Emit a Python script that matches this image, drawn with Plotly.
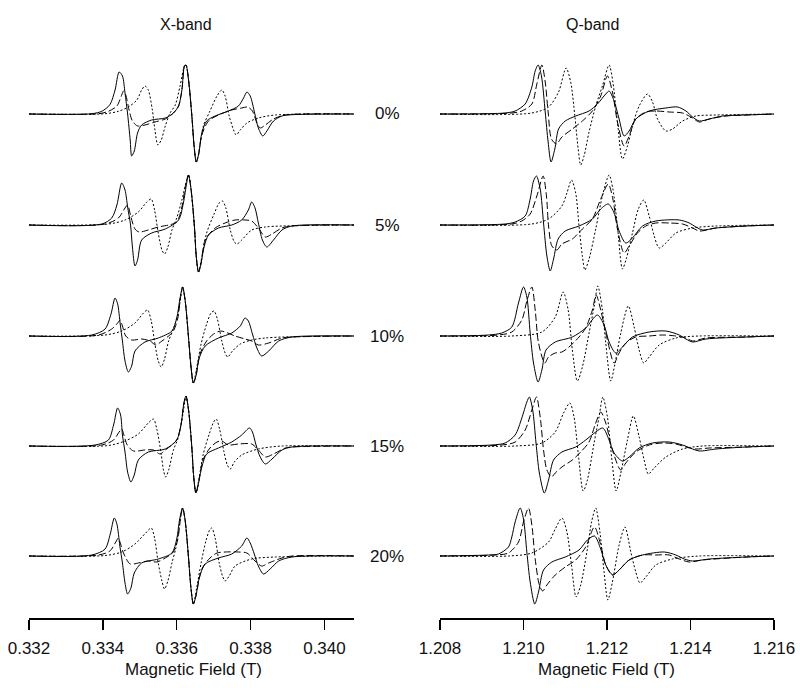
import plotly.graph_objects as go

PANELS = ["X-band", "Q-band"]
CONCENTRATIONS = ["0%", "5%", "10%", "15%", "20%"]
X_TICKS = [0.332, 0.334, 0.336, 0.338, 0.340]
Q_TICKS = [1.208, 1.210, 1.212, 1.214, 1.216]

# spectra: (field in T, first-derivative signal in a.u.)
X0_SOLID = [(0.33200, 0), (0.33370, 0.3), (0.33397, 2.7), (0.33419, 9.3), (0.33433, 24), (0.33444, 42), (0.33453, 38), (0.33460, 21), (0.33467, 0), (0.33474, -26), (0.33478, -42), (0.33485, -37), (0.33494, -19), (0.33505, -11), (0.33532, -6), (0.33569, -4), (0.33591, 1), (0.33605, 8), (0.33614, 24), (0.33621, 48), (0.33625, 49), (0.33632, 34), (0.33641, -2), (0.33647, -32), (0.33653, -48), (0.33659, -41), (0.33668, -19), (0.33681, -7), (0.33704, -2), (0.33740, 3), (0.33767, 8), (0.33781, 16), (0.33790, 22), (0.33799, 18), (0.33811, 1), (0.33821, -14), (0.33833, -22), (0.33844, -17), (0.33862, -7), (0.33885, -2), (0.33912, -0.7), (0.34080, 0)]
X0_DASH = [(0.33200, 0), (0.33388, 0.3), (0.33415, 2.7), (0.33438, 8), (0.33451, 19), (0.33456, 23), (0.33462, 19), (0.33471, 4), (0.33480, -7), (0.33494, -12), (0.33514, -11), (0.33541, -8), (0.33569, -5), (0.33591, 1), (0.33605, 8), (0.33614, 24), (0.33621, 48), (0.33625, 49), (0.33632, 34), (0.33641, -2), (0.33647, -32), (0.33653, -48), (0.33659, -41), (0.33668, -21), (0.33686, -7), (0.33713, -1), (0.33749, 4), (0.33776, 6), (0.33792, 7), (0.33805, 3), (0.33817, -9), (0.33826, -14), (0.33840, -11), (0.33862, -5), (0.33894, -1), (0.34080, 0)]
X0_DOT = [(0.33200, 0), (0.33406, 0.3), (0.33442, 2.7), (0.33469, 7), (0.33492, 14), (0.33505, 24), (0.33514, 28), (0.33523, 24), (0.33534, 4), (0.33541, -16), (0.33549, -31), (0.33558, -26), (0.33569, -12), (0.33582, 1), (0.33596, 9), (0.33609, 28), (0.33621, 48), (0.33625, 49), (0.33632, 34), (0.33641, -2), (0.33647, -32), (0.33653, -48), (0.33661, -36), (0.33672, -12), (0.33690, 3), (0.33709, 18), (0.33722, 24), (0.33731, 18), (0.33742, -2), (0.33754, -16), (0.33761, -21), (0.33772, -16), (0.33790, -9), (0.33821, -4), (0.33867, -1), (0.34080, 0)]

X1_SOLID = [(0.33200, 0), (0.33397, 1), (0.33424, 7), (0.33438, 20), (0.33451, 42), (0.33460, 35), (0.33467, 18), (0.33475, 0), (0.33480, -22), (0.33487, -41), (0.33494, -35), (0.33505, -15), (0.33532, -8), (0.33569, -4), (0.33605, 5), (0.33618, 22), (0.33627, 42), (0.33632, 50), (0.33639, 35), (0.33648, -2), (0.33653, -32), (0.33659, -47), (0.33665, -40), (0.33674, -22), (0.33686, -10), (0.33713, -3), (0.33749, 0), (0.33776, 5), (0.33794, 15), (0.33803, 23), (0.33812, 17), (0.33821, 2), (0.33832, -15), (0.33844, -22), (0.33862, -15), (0.33885, -5), (0.33912, -1), (0.34080, 0)]
X1_DASH = [(0.33200, 0), (0.33406, 1), (0.33442, 7), (0.33460, 17), (0.33467, 20), (0.33476, 8), (0.33487, -4), (0.33498, -7), (0.33523, -5), (0.33550, -2), (0.33578, 0), (0.33600, 3), (0.33614, 18), (0.33625, 42), (0.33632, 50), (0.33639, 35), (0.33648, -2), (0.33653, -32), (0.33659, -47), (0.33665, -40), (0.33677, -15), (0.33704, -3), (0.33731, 2), (0.33758, 5), (0.33785, 5), (0.33803, 4), (0.33821, -3), (0.33840, -12), (0.33858, -9), (0.33885, -3), (0.33912, -1), (0.34080, 0)]
X1_DOT = [(0.33200, 0), (0.33415, 1), (0.33460, 5), (0.33496, 13), (0.33519, 23), (0.33531, 26), (0.33540, 15), (0.33550, -8), (0.33560, -25), (0.33567, -29), (0.33576, -22), (0.33587, -5), (0.33600, 7), (0.33614, 25), (0.33625, 42), (0.33632, 50), (0.33639, 35), (0.33648, -2), (0.33653, -32), (0.33659, -47), (0.33668, -32), (0.33681, -8), (0.33700, 10), (0.33715, 22), (0.33724, 24), (0.33733, 17), (0.33745, -5), (0.33756, -17), (0.33763, -19), (0.33776, -15), (0.33803, -5), (0.33840, -2), (0.33885, -1), (0.34080, 0)]

X2_SOLID = [(0.33200, 0), (0.33370, 1), (0.33406, 7), (0.33422, 22), (0.33433, 38), (0.33440, 32), (0.33447, 12), (0.33453, -5), (0.33460, -25), (0.33469, -36), (0.33478, -30), (0.33487, -15), (0.33514, -6), (0.33550, -2), (0.33587, 5), (0.33600, 18), (0.33609, 38), (0.33616, 49), (0.33623, 35), (0.33632, -2), (0.33639, -32), (0.33645, -47), (0.33652, -40), (0.33661, -22), (0.33677, -10), (0.33713, -2), (0.33749, 3), (0.33772, 10), (0.33785, 18), (0.33794, 15), (0.33805, 2), (0.33817, -12), (0.33830, -20), (0.33849, -15), (0.33876, -5), (0.33912, -1), (0.34080, 0)]
X2_DASH = [(0.33200, 0), (0.33388, 1), (0.33424, 7), (0.33440, 13), (0.33447, 16), (0.33453, 10), (0.33462, 0), (0.33478, -4), (0.33505, -3), (0.33528, -5), (0.33543, -9), (0.33560, -5), (0.33578, 0), (0.33591, 5), (0.33603, 18), (0.33610, 38), (0.33616, 49), (0.33623, 35), (0.33632, -2), (0.33639, -32), (0.33645, -47), (0.33652, -40), (0.33663, -18), (0.33681, -5), (0.33700, 2), (0.33718, 5), (0.33731, 4), (0.33758, 0), (0.33785, -3), (0.33803, -5), (0.33821, -9), (0.33849, -7), (0.33885, -2), (0.33912, -1), (0.34080, 0)]
X2_DOT = [(0.33200, 0), (0.33406, 1), (0.33451, 5), (0.33487, 13), (0.33510, 23), (0.33521, 26), (0.33531, 15), (0.33541, -8), (0.33550, -25), (0.33558, -31), (0.33567, -23), (0.33578, -5), (0.33591, 7), (0.33605, 25), (0.33612, 42), (0.33616, 49), (0.33623, 35), (0.33632, -2), (0.33639, -32), (0.33645, -47), (0.33654, -32), (0.33666, -8), (0.33681, 12), (0.33693, 23), (0.33701, 25), (0.33710, 17), (0.33722, -5), (0.33731, -17), (0.33738, -21), (0.33751, -15), (0.33772, -8), (0.33803, -4), (0.33840, -2), (0.33885, -1), (0.34080, 0)]

X3_SOLID = [(0.33200, 0), (0.33379, 1), (0.33415, 6), (0.33429, 21), (0.33440, 38), (0.33448, 31), (0.33453, 11), (0.33460, -6), (0.33467, -26), (0.33476, -36), (0.33485, -29), (0.33496, -14), (0.33523, -6), (0.33569, -3), (0.33600, 6), (0.33612, 22), (0.33619, 42), (0.33625, 50), (0.33632, 36), (0.33641, -2), (0.33646, -31), (0.33652, -47), (0.33658, -39), (0.33668, -21), (0.33681, -8), (0.33713, -2), (0.33749, 4), (0.33776, 11), (0.33797, 18), (0.33805, 14), (0.33814, 2), (0.33826, -11), (0.33840, -18), (0.33858, -13), (0.33885, -4), (0.33912, -1), (0.34080, 0)]
X3_DASH = [(0.33200, 0), (0.33397, 1), (0.33429, 6), (0.33444, 14), (0.33451, 17), (0.33457, 11), (0.33466, 1), (0.33483, -5), (0.33514, -4), (0.33537, -4), (0.33555, -8), (0.33569, -4), (0.33587, 1), (0.33600, 6), (0.33612, 22), (0.33619, 42), (0.33625, 50), (0.33632, 36), (0.33641, -2), (0.33646, -31), (0.33652, -47), (0.33658, -39), (0.33671, -14), (0.33690, -2), (0.33709, 4), (0.33722, 5), (0.33740, 1), (0.33767, 2), (0.33803, 2), (0.33821, -4), (0.33840, -11), (0.33862, -8), (0.33894, -2), (0.33912, -1), (0.34080, 0)]
X3_DOT = [(0.33200, 0), (0.33415, 0.5), (0.33460, 5), (0.33496, 12), (0.33523, 23), (0.33537, 27), (0.33546, 17), (0.33558, -8), (0.33564, -24), (0.33570, -31), (0.33579, -23), (0.33591, -4), (0.33603, 7), (0.33614, 26), (0.33621, 42), (0.33625, 50), (0.33632, 36), (0.33641, -2), (0.33646, -31), (0.33652, -47), (0.33661, -31), (0.33672, -8), (0.33688, 12), (0.33700, 24), (0.33707, 27), (0.33716, 17), (0.33728, -6), (0.33737, -19), (0.33745, -23), (0.33756, -16), (0.33776, -9), (0.33821, -3), (0.33885, 0), (0.34080, 0)]

X4_SOLID = [(0.33200, 0), (0.33370, 1), (0.33406, 7), (0.33420, 22), (0.33431, 38), (0.33438, 32), (0.33446, 10), (0.33453, -7), (0.33460, -27), (0.33467, -38), (0.33476, -32), (0.33485, -17), (0.33505, -7), (0.33550, -3), (0.33587, 3), (0.33600, 17), (0.33608, 37), (0.33616, 48), (0.33623, 35), (0.33632, -2), (0.33638, -30), (0.33645, -48), (0.33652, -40), (0.33661, -22), (0.33677, -8), (0.33713, -2), (0.33749, 2), (0.33776, 10), (0.33790, 18), (0.33799, 13), (0.33810, 2), (0.33821, -10), (0.33835, -18), (0.33853, -13), (0.33876, -5), (0.33912, -1), (0.34080, 0)]
X4_DASH = [(0.33200, 0), (0.33388, 1), (0.33419, 5), (0.33435, 14), (0.33442, 18), (0.33448, 12), (0.33457, 2), (0.33474, -8), (0.33496, -7), (0.33523, -5), (0.33546, -6), (0.33569, -2), (0.33591, 4), (0.33603, 17), (0.33610, 37), (0.33616, 48), (0.33623, 35), (0.33632, -2), (0.33638, -30), (0.33645, -48), (0.33652, -40), (0.33668, -13), (0.33690, -2), (0.33709, 3), (0.33731, 4), (0.33767, 4), (0.33790, 3), (0.33812, -5), (0.33830, -10), (0.33849, -7), (0.33885, -2), (0.33912, 0), (0.34080, 0)]
X4_DOT = [(0.33200, 0), (0.33406, 0.5), (0.33451, 4), (0.33487, 12), (0.33516, 23), (0.33531, 28), (0.33540, 18), (0.33550, -7), (0.33560, -25), (0.33567, -33), (0.33576, -25), (0.33587, -7), (0.33597, 7), (0.33606, 27), (0.33612, 42), (0.33616, 48), (0.33623, 35), (0.33632, -2), (0.33638, -30), (0.33645, -48), (0.33654, -32), (0.33666, -7), (0.33679, 15), (0.33689, 26), (0.33695, 28), (0.33704, 18), (0.33715, -7), (0.33724, -20), (0.33731, -25), (0.33742, -20), (0.33758, -10), (0.33803, -3), (0.33867, -1), (0.34080, 0)]

Q0_SOLID = [(1.20800, 0), (1.20956, 1), (1.20980, 3), (1.21004, 10), (1.21020, 27), (1.21028, 43), (1.21035, 49), (1.21043, 38), (1.21052, 2), (1.21059, -28), (1.21066, -48), (1.21075, -35), (1.21084, -15), (1.21100, -7), (1.21125, -2), (1.21157, 3), (1.21177, 10), (1.21197, 20), (1.21205, 23), (1.21217, 13), (1.21229, -5), (1.21241, -22), (1.21253, -17), (1.21269, -5), (1.21301, 3), (1.21341, 6), (1.21369, 7), (1.21389, 3), (1.21405, -3), (1.21421, -7), (1.21445, -5), (1.21477, -2), (1.21533, -1), (1.21600, 0)]
Q0_DASH = [(1.20800, 0), (1.20972, 1), (1.20996, 3), (1.21020, 10), (1.21032, 30), (1.21044, 49), (1.21052, 32), (1.21059, 2), (1.21067, -25), (1.21079, -30), (1.21092, -23), (1.21117, -15), (1.21141, -7), (1.21165, 3), (1.21185, 18), (1.21201, 38), (1.21213, 22), (1.21225, -8), (1.21241, -32), (1.21253, -22), (1.21269, -5), (1.21293, 2), (1.21317, 3), (1.21349, 2), (1.21381, 1), (1.21405, -4), (1.21421, -8), (1.21445, -5), (1.21485, -2), (1.21533, -1), (1.21600, 0)]
Q0_DOT = [(1.20800, 0), (1.21020, 1), (1.21060, 7), (1.21084, 22), (1.21102, 46), (1.21113, 32), (1.21123, -2), (1.21131, -35), (1.21137, -51), (1.21145, -42), (1.21157, -18), (1.21173, 8), (1.21189, 28), (1.21205, 49), (1.21214, 32), (1.21225, -8), (1.21237, -45), (1.21249, -32), (1.21261, -12), (1.21277, 8), (1.21297, 20), (1.21309, 12), (1.21321, -5), (1.21341, -17), (1.21357, -15), (1.21381, -7), (1.21413, -2), (1.21461, -1), (1.21600, 0)]

Q1_SOLID = [(1.20800, 0), (1.20956, 1), (1.20980, 3), (1.21004, 9), (1.21016, 26), (1.21024, 44), (1.21031, 49), (1.21040, 36), (1.21048, 2), (1.21056, -31), (1.21064, -46), (1.21072, -34), (1.21083, -14), (1.21100, -6), (1.21133, -1), (1.21165, 6), (1.21185, 16), (1.21203, 21), (1.21217, 12), (1.21229, -6), (1.21245, -18), (1.21261, -13), (1.21285, -1), (1.21317, 4), (1.21373, 5), (1.21397, 2), (1.21413, -2), (1.21429, -5), (1.21461, -3), (1.21533, -1), (1.21600, 0)]
Q1_DASH = [(1.20800, 0), (1.20972, 1), (1.20996, 4), (1.21016, 11), (1.21032, 29), (1.21047, 49), (1.21055, 29), (1.21060, -1), (1.21068, -21), (1.21080, -25), (1.21092, -19), (1.21117, -14), (1.21141, -4), (1.21165, 6), (1.21185, 26), (1.21203, 41), (1.21214, 26), (1.21225, -4), (1.21241, -28), (1.21253, -21), (1.21273, -8), (1.21293, -1), (1.21317, 2), (1.21349, 2), (1.21381, 1), (1.21405, -3), (1.21421, -6), (1.21461, -3), (1.21533, -1), (1.21600, 0)]
Q1_DOT = [(1.20800, 0), (1.21020, 1), (1.21060, 6), (1.21092, 19), (1.21104, 32), (1.21115, 45), (1.21125, 32), (1.21133, -1), (1.21141, -31), (1.21147, -45), (1.21157, -34), (1.21173, -4), (1.21189, 29), (1.21205, 50), (1.21214, 36), (1.21225, -1), (1.21237, -44), (1.21246, -34), (1.21261, -8), (1.21275, 16), (1.21288, 25), (1.21301, 9), (1.21313, -11), (1.21325, -23), (1.21341, -18), (1.21365, -8), (1.21405, -3), (1.21461, -1), (1.21600, 0)]

Q2_SOLID = [(1.20800, 0), (1.20916, 1), (1.20948, 3), (1.20972, 9), (1.20988, 33), (1.21000, 49), (1.21008, 39), (1.21016, 3), (1.21024, -27), (1.21035, -46), (1.21044, -34), (1.21054, -14), (1.21076, -6), (1.21117, -1), (1.21149, 8), (1.21177, 21), (1.21193, 11), (1.21205, -6), (1.21221, -17), (1.21237, -11), (1.21261, -1), (1.21301, 4), (1.21341, 5), (1.21373, 1), (1.21389, -3), (1.21405, -6), (1.21437, -3), (1.21533, -1), (1.21600, 0)]
Q2_DASH = [(1.20800, 0), (1.20940, 1), (1.20972, 4), (1.20996, 16), (1.21008, 35), (1.21020, 49), (1.21028, 26), (1.21036, -7), (1.21051, -27), (1.21060, -21), (1.21076, -17), (1.21092, -16), (1.21109, -11), (1.21133, -1), (1.21149, 8), (1.21165, 26), (1.21174, 41), (1.21185, 26), (1.21201, -4), (1.21217, -27), (1.21229, -17), (1.21245, -7), (1.21269, -1), (1.21301, 0), (1.21333, 1), (1.21365, 0), (1.21389, -2), (1.21405, -5), (1.21437, -2), (1.21533, -1), (1.21600, 0)]
Q2_DOT = [(1.20800, 0), (1.20972, 0), (1.21044, 4), (1.21076, 19), (1.21095, 44), (1.21107, 26), (1.21117, -14), (1.21129, -45), (1.21141, -31), (1.21157, 3), (1.21169, 29), (1.21178, 50), (1.21189, 26), (1.21197, -7), (1.21209, -45), (1.21219, -28), (1.21233, 3), (1.21251, 30), (1.21265, 9), (1.21277, -14), (1.21288, -27), (1.21301, -21), (1.21325, -9), (1.21365, -2), (1.21421, 0), (1.21600, 0)]

Q3_SOLID = [(1.20800, 0), (1.20924, 1), (1.20956, 3), (1.20980, 11), (1.20996, 28), (1.21008, 44), (1.21014, 49), (1.21022, 36), (1.21030, 3), (1.21038, -27), (1.21050, -47), (1.21060, -34), (1.21072, -14), (1.21092, -6), (1.21125, -1), (1.21149, 6), (1.21173, 14), (1.21190, 18), (1.21205, 6), (1.21217, -7), (1.21237, -15), (1.21253, -11), (1.21277, -2), (1.21309, 3), (1.21349, 4), (1.21381, 1), (1.21405, -3), (1.21421, -5), (1.21461, -3), (1.21533, -1), (1.21600, 0)]
Q3_DASH = [(1.20800, 0), (1.20948, 1), (1.20980, 4), (1.21004, 16), (1.21020, 36), (1.21031, 49), (1.21040, 29), (1.21048, -4), (1.21056, -24), (1.21067, -31), (1.21076, -27), (1.21092, -21), (1.21117, -14), (1.21137, -6), (1.21157, 4), (1.21173, 23), (1.21185, 34), (1.21197, 23), (1.21213, -4), (1.21233, -24), (1.21245, -17), (1.21269, -6), (1.21301, 1), (1.21333, 3), (1.21365, 2), (1.21389, -1), (1.21413, -3), (1.21445, -2), (1.21533, -1), (1.21600, 0)]
Q3_DOT = [(1.20800, 0), (1.20980, 0), (1.21044, 3), (1.21076, 14), (1.21096, 33), (1.21111, 43), (1.21121, 29), (1.21131, -7), (1.21143, -45), (1.21153, -34), (1.21169, 3), (1.21181, 29), (1.21190, 49), (1.21201, 29), (1.21211, -11), (1.21222, -45), (1.21233, -27), (1.21249, 6), (1.21263, 30), (1.21277, 9), (1.21289, -14), (1.21299, -28), (1.21313, -22), (1.21341, -11), (1.21381, -3), (1.21429, 0), (1.21600, 0)]

Q4_SOLID = [(1.20800, 0), (1.20916, 1), (1.20940, 2), (1.20964, 9), (1.20972, 19), (1.20980, 34), (1.20992, 48), (1.21000, 37), (1.21008, 4), (1.21016, -26), (1.21027, -48), (1.21036, -36), (1.21048, -14), (1.21068, -6), (1.21100, -1), (1.21133, 6), (1.21153, 16), (1.21170, 20), (1.21185, 7), (1.21197, -9), (1.21214, -19), (1.21229, -14), (1.21253, -4), (1.21285, 1), (1.21337, 4), (1.21365, 1), (1.21385, -3), (1.21405, -5), (1.21445, -3), (1.21533, -1), (1.21600, 0)]
Q4_DASH = [(1.20800, 0), (1.20932, 1), (1.20964, 3), (1.20988, 14), (1.21000, 34), (1.21012, 48), (1.21020, 31), (1.21028, -3), (1.21038, -29), (1.21046, -35), (1.21056, -29), (1.21076, -19), (1.21100, -11), (1.21125, -4), (1.21149, 9), (1.21170, 29), (1.21185, 11), (1.21197, -9), (1.21213, -19), (1.21229, -14), (1.21253, -4), (1.21285, 1), (1.21317, 1), (1.21349, 1), (1.21373, -3), (1.21397, -6), (1.21429, -4), (1.21533, -1), (1.21600, 0)]
Q4_DOT = [(1.20800, 0), (1.20964, 0), (1.21020, 3), (1.21060, 14), (1.21076, 27), (1.21092, 38), (1.21104, 24), (1.21115, -9), (1.21126, -41), (1.21137, -29), (1.21153, 7), (1.21163, 34), (1.21173, 48), (1.21183, 24), (1.21193, -16), (1.21202, -44), (1.21213, -26), (1.21229, 11), (1.21243, 29), (1.21257, 4), (1.21269, -16), (1.21279, -27), (1.21293, -21), (1.21317, -9), (1.21357, -3), (1.21421, 0), (1.21600, 0)]

X_SPECTRA = [(X0_SOLID, X0_DASH, X0_DOT), (X1_SOLID, X1_DASH, X1_DOT), (X2_SOLID, X2_DASH, X2_DOT),
             (X3_SOLID, X3_DASH, X3_DOT), (X4_SOLID, X4_DASH, X4_DOT)]
Q_SPECTRA = [(Q0_SOLID, Q0_DASH, Q0_DOT), (Q1_SOLID, Q1_DASH, Q1_DOT), (Q2_SOLID, Q2_DASH, Q2_DOT),
             (Q3_SOLID, Q3_DASH, Q3_DOT), (Q4_SOLID, Q4_DASH, Q4_DOT)]

# layout in page pixels (the page margin is removed in post_script below)
W, H = 800, 688
BASELINE_PX = [114, 225, 336, 446, 556]
AXIS_PX = 618
DASHES = ["solid", "7px,3px", "2px,2px"]
FONT = "Liberation Sans, Arial, sans-serif"


def px(x):
    return x / W


def py(y):
    return 1 - y / H


fig = go.Figure()
for xref, spectra in (("x", X_SPECTRA), ("x2", Q_SPECTRA)):
    for base, row in zip(BASELINE_PX, spectra):
        for curve, dash in zip(row, DASHES):
            fig.add_trace(go.Scatter(
                x=[p[0] for p in curve], y=[p[1] - base for p in curve],
                xaxis=xref, yaxis="y", mode="lines", showlegend=False, hoverinfo="skip",
                line=dict(color="black", width=1, dash=dash, shape="spline", smoothing=0.8),
            ))

axis_style = dict(
    anchor="free", position=py(AXIS_PX), showgrid=False, zeroline=False, automargin=False,
    showline=True, linecolor="black", linewidth=1.5,
    ticks="outside", ticklen=10, tickwidth=1.5, tickcolor="black", ticklabelstandoff=4,
    tickfont=dict(family=FONT, size=17, color="#111"), tickformat=".3f",
)
fig.update_layout(
    width=W, height=H, margin=dict(l=0, r=0, t=0, b=0, autoexpand=False),
    paper_bgcolor="white", plot_bgcolor="rgba(0,0,0,0)",
    xaxis=dict(domain=[px(29), px(354)], range=[0.332, 0.3408], tickvals=X_TICKS, **axis_style),
    xaxis2=dict(domain=[px(440), px(774)], range=[1.208, 1.216], tickvals=Q_TICKS, **axis_style),
    yaxis=dict(domain=[0, 1], range=[-H, 0], visible=False, fixedrange=True, automargin=False),
)

text_style = dict(xref="paper", yref="paper", xanchor="center", yanchor="middle", showarrow=False)
annotations = []
for name, cx, axis_cx in zip(PANELS, [186, 592], [193, 606]):
    annotations.append(dict(text=name, x=px(cx), y=py(25), font=dict(family=FONT, size=16, color="#111"),
                            **text_style))
    annotations.append(dict(text="Magnetic Field (T)", x=px(axis_cx), y=py(669),
                            font=dict(family=FONT, size=17, color="#111"), **text_style))
for label, base in zip(CONCENTRATIONS, BASELINE_PX):
    annotations.append(dict(text=label, x=px(387), y=py(base), font=dict(family=FONT, size=17, color="#111"),
                            **text_style))
fig.update_layout(annotations=annotations)

fig.write_html("out.html", config={"displayModeBar": False, "staticPlot": True},
               post_script="document.body.style.margin='0';document.body.style.overflow='hidden';")
